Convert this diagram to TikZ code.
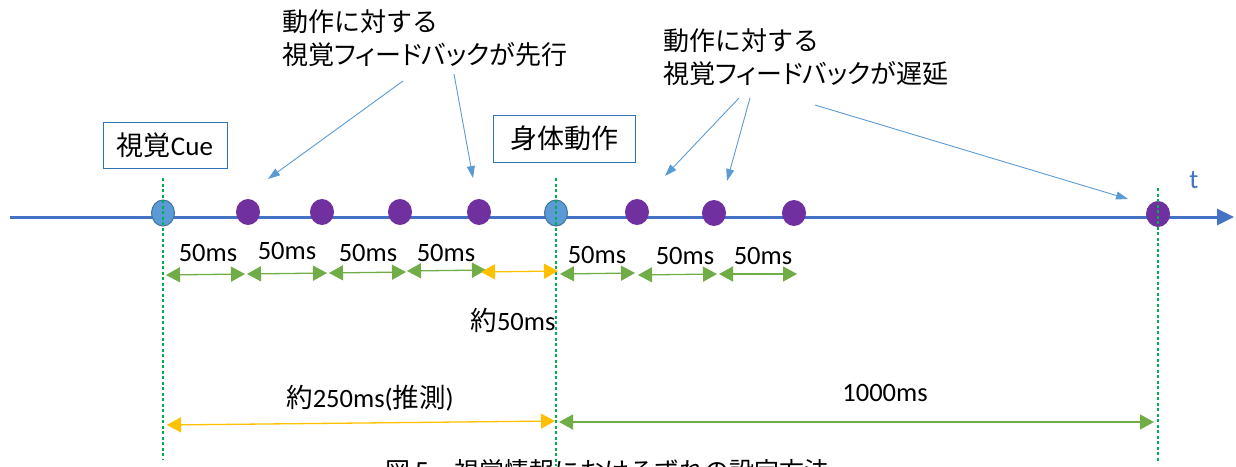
\documentclass[tikz,border=0pt]{standalone}
\usepackage{fontspec}
\setmainfont{Carlito}
\newfontfamily\jp[RawFeature=+palt]{Noto Sans CJK JP}
\newfontfamily\jpn{Noto Sans CJK JP}
\usetikzlibrary{arrows.meta,shapes.geometric}
\definecolor{axisblue}{HTML}{4472C4}
\definecolor{cueblue}{HTML}{5B9BD5}
\definecolor{cueedge}{HTML}{41719C}
\definecolor{fbpurple}{HTML}{7030A0}
\definecolor{msgreen}{HTML}{70AD47}
\definecolor{msyellow}{HTML}{FFC000}
\definecolor{guidegreen}{HTML}{00B050}
\definecolor{boxblue}{HTML}{2E75B6}
\definecolor{noteblue}{HTML}{5B9BD5}
\tikzset{
  axisline/.style={draw=axisblue, line width=3pt, -{Triangle[length=17pt,width=16pt]}},
  cuedot/.style={ellipse, fill=cueblue, draw=cueedge, line width=1pt, minimum width=23pt, minimum height=26pt, inner sep=0pt},
  fbdot/.style={ellipse, fill=fbpurple, draw=none, minimum width=24pt, minimum height=26pt, inner sep=0pt},
  guide/.style={draw=guidegreen, line width=1.2pt, dash pattern=on 3pt off 2.5pt},
  gspan/.style={draw=msgreen, line width=1.3pt, {Triangle[length=14pt,width=15pt]}-{Triangle[length=14pt,width=15pt]}},
  yspan/.style={draw=msyellow, line width=1.3pt, {Triangle[length=14pt,width=15pt]}-{Triangle[length=14pt,width=15pt]}},
  note/.style={draw=noteblue, line width=0.9pt, -{Triangle[length=12pt,width=8pt]}},
  labelbox/.style={draw=boxblue, line width=1pt, fill=white, inner sep=0pt, font=\fontsize{27}{30}\selectfont},
  mslabel/.style={inner sep=0pt, font=\fontsize{26.5}{30}\selectfont},
  notetext/.style={inner sep=0pt, align=left, anchor=north west, font=\jpn\fontsize{26}{33}\selectfont}
}
\begin{document}
\begin{tikzpicture}[x=1pt,y=-1pt]
\useasboundingbox (0,0) rectangle (1236,466);
\clip (0,0) rectangle (1236,466);

% time axis
\coordinate (axs) at (10,217);
\coordinate (axe) at (1234,217);
\draw[axisline] (axs) -- (axe);
\node[inner sep=0pt, text=axisblue, font=\fontsize{27}{30}\selectfont] (tl) at (1194,180) {t};

% dots
\node[cuedot] (c1) at (163,213) {};
\node[fbdot] (p1) at (248,212) {};
\node[fbdot] (p2) at (322,212) {};
\node[fbdot] (p3) at (400,212) {};
\node[fbdot] (p4) at (479,212) {};
\node[cuedot] (c2) at (556,213) {};
\node[fbdot] (p5) at (637,212) {};
\node[fbdot] (p6) at (714,213) {};
\node[fbdot] (p7) at (794,213) {};
\node[fbdot] (p8) at (1158,214) {};

% guide lines
\coordinate (g1t) at (163,178); \coordinate (g1b) at (163,460);
\coordinate (g2t) at (556,178); \coordinate (g2b) at (556,466);
\coordinate (g3t) at (1158,188); \coordinate (g3b) at (1158,463);
\draw[guide] (g1t) -- (g1b);
\draw[guide] (g2t) -- (g2b);
\draw[guide] (g3t) -- (g3b);

% label boxes
\node[labelbox, minimum width=124pt, minimum height=46pt] (cue) at (165,145) {{\jpn 視覚}Cue};
\node[labelbox, minimum width=142pt, minimum height=47pt] (body) at (564,138.5) {\jpn 身体動作};

% small spans
\coordinate (s1a) at (166,275); \coordinate (s1b) at (245,274);
\coordinate (s2a) at (247,274); \coordinate (s2b) at (327,273);
\coordinate (s3a) at (329,273); \coordinate (s3b) at (406,272);
\coordinate (s4a) at (407,271); \coordinate (s4b) at (486,270);
\coordinate (s5a) at (481,272); \coordinate (s5b) at (558,271);
\coordinate (s6a) at (560,274); \coordinate (s6b) at (635,273);
\coordinate (s7a) at (638,275); \coordinate (s7b) at (717,274);
\coordinate (s8a) at (719,274); \coordinate (s8b) at (797,274);
\draw[gspan] (s1a) -- (s1b);
\draw[gspan] (s2a) -- (s2b);
\draw[gspan] (s3a) -- (s3b);
\draw[gspan] (s4a) -- (s4b);
\draw[yspan] (s5a) -- (s5b);
\draw[gspan] (s6a) -- (s6b);
\draw[gspan] (s7a) -- (s7b);
\draw[gspan] (s8a) -- (s8b);

\node[mslabel] (l1) at (208,253) {50ms};
\node[mslabel] (l2) at (287,251) {50ms};
\node[mslabel] (l3) at (368,253) {50ms};
\node[mslabel] (l4) at (446,253) {50ms};
\node[mslabel] (l5) at (597,255) {50ms};
\node[mslabel] (l6) at (685,256) {50ms};
\node[mslabel] (l7) at (763,256) {50ms};
\node[mslabel] (l8) at (513,320) {{\jpn 約}50ms};

% long spans
\coordinate (b1a) at (167,425); \coordinate (b1b) at (555,421);
\coordinate (b2a) at (559,422); \coordinate (b2b) at (1154,422);
\draw[yspan] (b1a) -- (b1b);
\draw[gspan] (b2a) -- (b2b);
\node[mslabel] (l9) at (370,398) {{\jpn 約}250ms({\jpn 推測})};
\node[mslabel] (l10) at (885,393) {1000ms};

% annotations
\node[notetext] (n1) at (282,9) {動作に対する\\{\jp 視覚フィードバックが先行}};
\node[notetext] (n2) at (663,28) {動作に対する\\{\jp 視覚フィードバックが遅延}};
\coordinate (a1s) at (403,81);  \coordinate (a1e) at (268,179);
\coordinate (a2s) at (454,74);  \coordinate (a2e) at (473,178);
\coordinate (a3s) at (739,98);  \coordinate (a3e) at (665,176);
\coordinate (a4s) at (750,98);  \coordinate (a4e) at (727,181);
\coordinate (a5s) at (815,105); \coordinate (a5e) at (1128,199);
\draw[note] (a1s) -- (a1e);
\draw[note] (a2s) -- (a2e);
\draw[note] (a3s) -- (a3e);
\draw[note] (a4s) -- (a4e);
\draw[note] (a5s) -- (a5e);

% caption (cut off at the bottom edge, as in the reference)
\node[inner sep=0pt, anchor=base west, font=\jpn\fontsize{25}{28}\selectfont] (cap) at (385,480) {図 5　視覚情報におけるずれの設定方法};
\end{tikzpicture}
\end{document}
